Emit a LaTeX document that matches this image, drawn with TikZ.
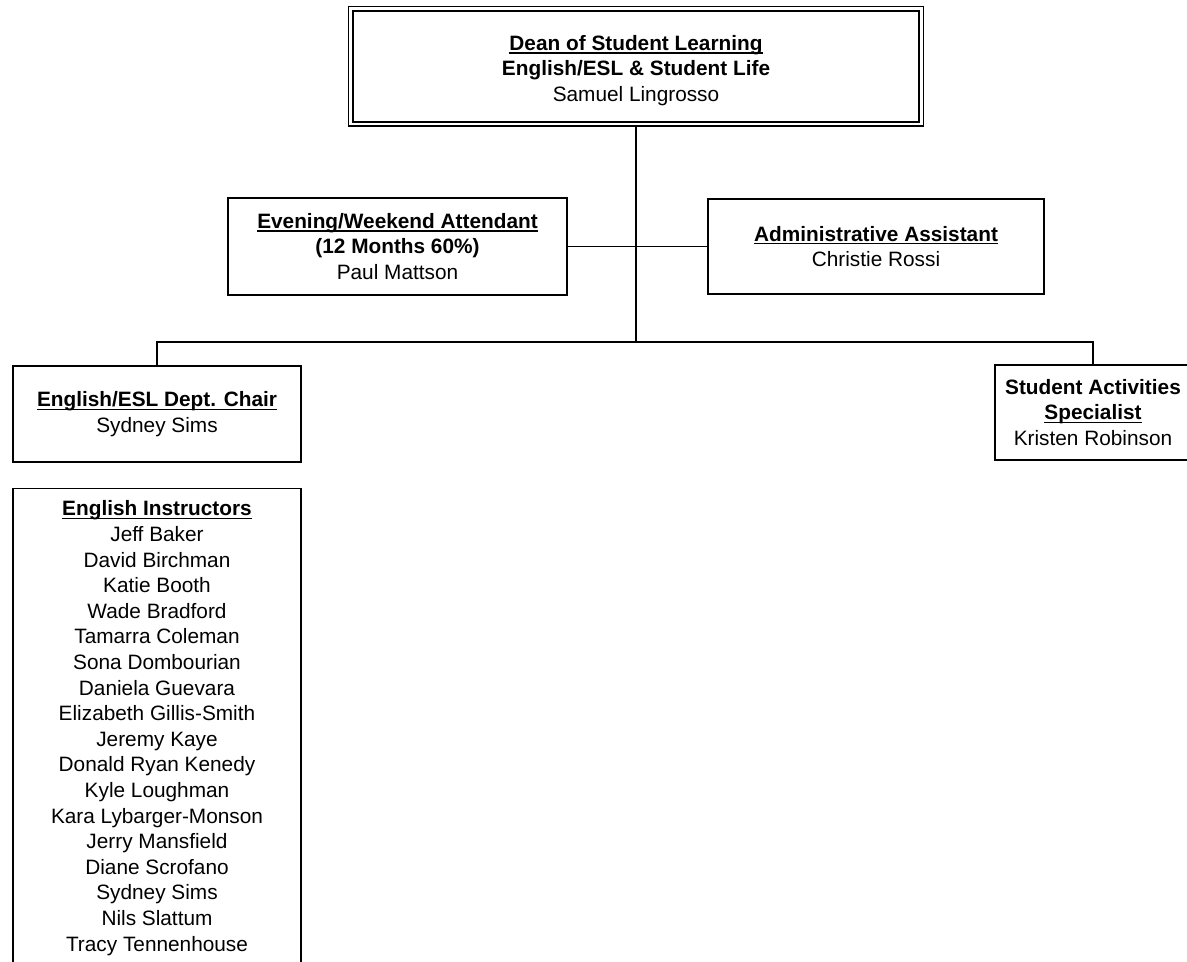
\documentclass[tikz,border=0pt]{standalone}
\usepackage{fontspec}
\setmainfont{Liberation Sans}
\usetikzlibrary{positioning}

\newsavebox{\postbox}
\newcommand{\post}[1]{\sbox{\postbox}{\textbf{#1}}\rlap{\rule[-2.4pt]{\wd\postbox}{0.9pt}}\usebox{\postbox}}

\tikzset{
  unit/.style={draw, line width=1.1pt, align=center, inner sep=2pt},
}

\begin{document}
\begin{tikzpicture}[x=0.75pt,y=-0.75pt,line width=1.2pt,font=\fontsize{15.6}{19.2}\selectfont]
\useasboundingbox (0,0) rectangle (1187,962);
\node[unit, double, double distance=2pt, minimum width=427.8pt, minimum height=86.5pt](dean) at (636,66.5){\rule{0pt}{17.4pt}\post{Dean of Student Learning}\\\textbf{English/ESL \& Student Life}\\Samuel Lingrosso};
\node[unit, minimum width=254pt, minimum height=72.75pt](attendant) at (397.5,246.5){\post{Evening/Weekend Attendant}\\\textbf{(12 Months 60\%)}\\Paul Mattson};
\node[unit, minimum width=252pt, minimum height=71.5pt](admin) at (876,246.5){\post{Administrative Assistant}\\Christie Rossi};
\node[unit, minimum width=216pt, minimum height=72pt](chair) at (157,414){\post{English/ESL Dept. Chair}\\Sydney Sims};
\node[unit, minimum width=216pt, inner ysep=6pt](instructors) [below=18.75pt of chair]{\rule{0pt}{14.5pt}\post{English Instructors}\\Jeff Baker\\David Birchman\\Katie Booth\\Wade Bradford\\Tamarra Coleman\\Sona Dombourian\\Daniela Guevara\\Elizabeth Gillis-Smith\\Jeremy Kaye\\Donald Ryan Kenedy\\Kyle Loughman\\Kara Lybarger-Monson\\Jerry Mansfield\\Diane Scrofano\\Sydney Sims\\Nils Slattum\\Tracy Tennenhouse\rule[-30pt]{0pt}{1pt}};
\node[unit, minimum width=147pt, minimum height=71.25pt, inner xsep=1pt](activities) at (1093,412.5){\textbf{Student Activities}\\\post{Specialist}\\Kristen Robinson};
% lines
\coordinate (bus) at ([yshift=17.25pt]chair.north);
\draw (dean.south) -- (dean.south |- bus);
\draw (attendant.east) -- (admin.west);
\draw (chair.north) -- (bus) -| (activities.north);
\end{tikzpicture}
\end{document}
